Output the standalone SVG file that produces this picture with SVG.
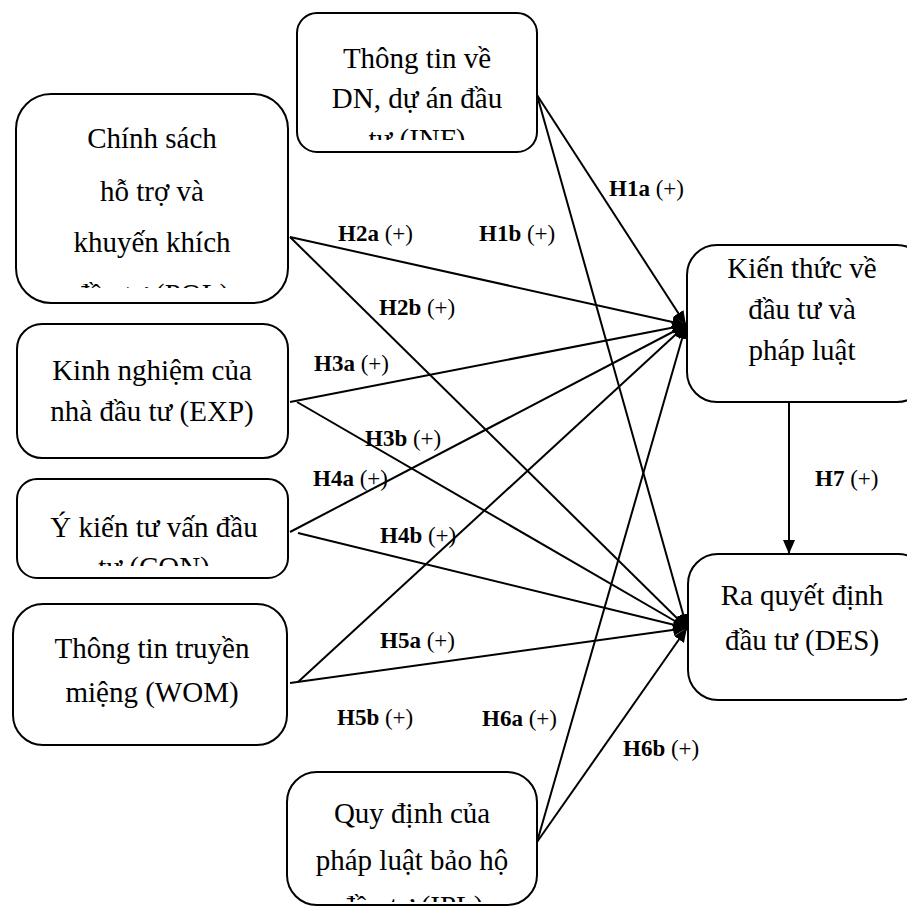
<svg xmlns="http://www.w3.org/2000/svg" width="907" height="914" viewBox="0 0 907 914">
<style>
.box{fill:#fff;stroke:#000;stroke-width:2}
.t{font-family:"Liberation Serif","Times New Roman",serif;font-size:29px;fill:#000;text-anchor:middle}
.lbl{font-family:"Liberation Serif","Times New Roman",serif;font-size:23px;fill:#000}
.lbl .b{font-weight:bold}
.c{stroke:#000;stroke-width:2;fill:none}
</style>
<defs>
<marker id="ah" viewBox="0 0 14 12" refX="14" refY="6" markerWidth="14" markerHeight="12" markerUnits="userSpaceOnUse" orient="auto">
<path d="M0,0 L14,6 L0,12 Z" fill="#000"/>
</marker>
<clipPath id="cINF"><rect x="297" y="13" width="240" height="127"/></clipPath>
<clipPath id="cPOL"><rect x="16" y="94" width="272" height="194"/></clipPath>
<clipPath id="cCON"><rect x="17" y="479" width="271" height="87"/></clipPath>
<clipPath id="cIPL"><rect x="287" y="772" width="250" height="130"/></clipPath>
</defs>
<rect width="907" height="914" fill="#fff"/>
<g id="connectors">
<line class="c" x1="537" y1="95" x2="686" y2="325" marker-end="url(#ah)"/>
<line class="c" x1="537" y1="95" x2="687" y2="628" marker-end="url(#ah)"/>
<line class="c" x1="290" y1="237" x2="686" y2="325" marker-end="url(#ah)"/>
<line class="c" x1="290" y1="237" x2="687" y2="628" marker-end="url(#ah)"/>
<line class="c" x1="290" y1="402" x2="686" y2="325" marker-end="url(#ah)"/>
<line class="c" x1="297" y1="402" x2="687" y2="628" marker-end="url(#ah)"/>
<line class="c" x1="290" y1="532" x2="686" y2="325" marker-end="url(#ah)"/>
<line class="c" x1="298" y1="533" x2="687" y2="628" marker-end="url(#ah)"/>
<line class="c" x1="298" y1="682" x2="686" y2="325" marker-end="url(#ah)"/>
<line class="c" x1="290" y1="683" x2="687" y2="628" marker-end="url(#ah)"/>
<line class="c" x1="537" y1="842" x2="686" y2="325" marker-end="url(#ah)"/>
<line class="c" x1="537" y1="842" x2="687" y2="628" marker-end="url(#ah)"/>
<line class="c" x1="789" y1="402" x2="789" y2="554" marker-end="url(#ah)"/>
</g>
<g id="labels">
<text class="lbl" x="609" y="196"><tspan class="b">H1a</tspan> (+)</text>
<text class="lbl" x="338" y="241"><tspan class="b">H2a</tspan> (+)</text>
<text class="lbl" x="479" y="241"><tspan class="b">H1b</tspan> (+)</text>
<text class="lbl" x="379" y="315"><tspan class="b">H2b</tspan> (+)</text>
<text class="lbl" x="314" y="371"><tspan class="b">H3a</tspan> (+)</text>
<text class="lbl" x="365" y="446"><tspan class="b">H3b</tspan> (+)</text>
<text class="lbl" x="313" y="486"><tspan class="b">H4a</tspan> (+)</text>
<text class="lbl" x="380" y="543"><tspan class="b">H4b</tspan> (+)</text>
<text class="lbl" x="380" y="648"><tspan class="b">H5a</tspan> (+)</text>
<text class="lbl" x="337" y="725"><tspan class="b">H5b</tspan> (+)</text>
<text class="lbl" x="482" y="726"><tspan class="b">H6a</tspan> (+)</text>
<text class="lbl" x="623" y="756"><tspan class="b">H6b</tspan> (+)</text>
<text class="lbl" x="815" y="486"><tspan class="b">H7</tspan> (+)</text>
</g>
<g id="INF">
<rect class="box" x="297" y="13" width="240" height="139" rx="20"/>
<g clip-path="url(#cINF)">
<text class="t" x="417" y="68">Thông tin về</text>
<text class="t" x="417" y="108">DN, dự án đầu</text>
<text class="t" x="417" y="149">tư (INF)</text>
</g>
</g>
<g id="POL">
<rect class="box" x="16" y="94" width="272" height="209" rx="35"/>
<g clip-path="url(#cPOL)">
<text class="t" x="152" y="148">Chính sách</text>
<text class="t" x="152" y="201">hỗ trợ và</text>
<text class="t" x="152" y="252">khuyến khích</text>
<text class="t" x="152" y="304">đầu tư (POL)</text>
</g>
</g>
<g id="EXP">
<rect class="box" x="17" y="324" width="271" height="134" rx="25"/>
<text class="t" x="152" y="380">Kinh nghiệm của</text>
<text class="t" x="152" y="421">nhà đầu tư (EXP)</text>
</g>
<g id="CON">
<rect class="box" x="17" y="479" width="271" height="99" rx="20"/>
<g clip-path="url(#cCON)">
<text class="t" x="154" y="537">Ý kiến tư vấn đầu</text>
<text class="t" x="154" y="577">tư (CON)</text>
</g>
</g>
<g id="WOM">
<rect class="box" x="13" y="604" width="274" height="141" rx="30"/>
<text class="t" x="152" y="658">Thông tin truyền</text>
<text class="t" x="152" y="702">miệng (WOM)</text>
</g>
<g id="IPL">
<rect class="box" x="287" y="772" width="250" height="133" rx="30"/>
<g clip-path="url(#cIPL)">
<text class="t" x="412" y="823">Quy định của</text>
<text class="t" x="412" y="870">pháp luật bảo hộ</text>
<text class="t" x="412" y="916">đầu tư (IPL)</text>
</g>
</g>
<g id="KNOW">
<rect class="box" x="687" y="245" width="240" height="157" rx="30"/>
<text class="t" x="802" y="278">Kiến thức về</text>
<text class="t" x="802" y="319">đầu tư và</text>
<text class="t" x="802" y="360">pháp luật</text>
</g>
<g id="DES">
<rect class="box" x="688" y="554" width="240" height="146" rx="30"/>
<text class="t" x="802" y="605">Ra quyết định</text>
<text class="t" x="802" y="650">đầu tư (DES)</text>
</g>
</svg>
